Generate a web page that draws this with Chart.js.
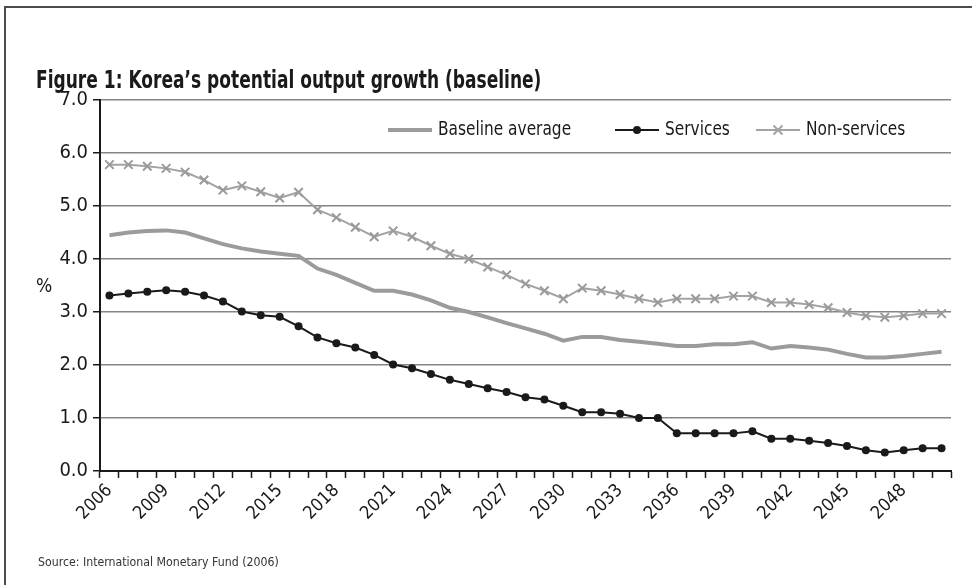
<!DOCTYPE html>
<html>
<head>
<meta charset="utf-8">
<script src="https://cdn.jsdelivr.net/npm/chart.js"></script>
<style>
  html, body { margin: 0; padding: 0; background: #fff; }
  .figure {
    position: relative;
    width: 972px;
    height: 585px;
    overflow: hidden;
    font-family: 'DejaVu Sans Condensed', 'Liberation Sans Narrow', sans-serif;
    color: #1a1a1a;
  }
  .frame {
    position: absolute;
    left: 4px; top: 6px;
    width: 980px; height: 600px;
    border-top: 2px solid #4d4d4d;
    border-left: 2px solid #4d4d4d;
  }
  .title {
    position: absolute;
    left: 36px; top: 66px;
    font-size: 24px;
    font-weight: bold;
    white-space: nowrap;
    transform: scaleX(0.79);
    transform-origin: left center;
  }
  .unit {
    position: absolute;
    left: 36px; top: 274px;
    font-size: 19px;
  }
  .source {
    position: absolute;
    left: 38px; top: 554px;
    font-size: 13px;
    color: #333;
    white-space: nowrap;
    transform: scaleX(0.94);
    transform-origin: left center;
  }
  canvas { position: absolute; left: 0; top: 0; }
</style>
</head>
<body>
<div class="figure">
  <div class="frame"></div>
  <canvas id="chart" width="972" height="585"></canvas>
  <div class="title">Figure 1: Korea’s potential output growth (baseline)</div>
  <div class="unit">%</div>
  <div class="source">Source: International Monetary Fund (2006)</div>
</div>

<script>
const years = [
  2006, 2007, 2008, 2009, 2010, 2011, 2012, 2013, 2014, 2015,
  2016, 2017, 2018, 2019, 2020, 2021, 2022, 2023, 2024, 2025,
  2026, 2027, 2028, 2029, 2030, 2031, 2032, 2033, 2034, 2035,
  2036, 2037, 2038, 2039, 2040, 2041, 2042, 2043, 2044, 2045,
  2046, 2047, 2048, 2049, 2050
];

const baselineAvg = [
  4.45, 4.50, 4.53, 4.54, 4.50, 4.39, 4.28, 4.20, 4.14, 4.10,
  4.06, 3.82, 3.70, 3.55, 3.40, 3.40, 3.33, 3.22, 3.08, 3.00,
  2.90, 2.79, 2.69, 2.59, 2.46, 2.53, 2.53, 2.47, 2.44, 2.40,
  2.36, 2.36, 2.39, 2.39, 2.43, 2.31, 2.36, 2.33, 2.29, 2.21,
  2.14, 2.14, 2.17, 2.21, 2.25
];

const services = [
  3.31, 3.35, 3.38, 3.41, 3.38, 3.31, 3.20, 3.01, 2.94, 2.91,
  2.73, 2.52, 2.41, 2.33, 2.19, 2.01, 1.94, 1.83, 1.72, 1.64,
  1.56, 1.49, 1.39, 1.35, 1.23, 1.11, 1.11, 1.08, 1.00, 1.00,
  0.71, 0.71, 0.71, 0.71, 0.75, 0.61, 0.61, 0.57, 0.53, 0.47,
  0.39, 0.35, 0.39, 0.43, 0.43
];

const nonServices = [
  5.78, 5.78, 5.75, 5.71, 5.64, 5.49, 5.30, 5.38, 5.27, 5.15,
  5.26, 4.93, 4.78, 4.60, 4.42, 4.53, 4.42, 4.25, 4.10, 4.00,
  3.85, 3.70, 3.53, 3.40, 3.25, 3.45, 3.40, 3.33, 3.25, 3.18,
  3.25, 3.25, 3.25, 3.30, 3.30, 3.18, 3.18, 3.14, 3.08, 2.99,
  2.93, 2.90, 2.93, 2.97, 2.97
];

const yTicks = [0, 1, 2, 3, 4, 5, 6, 7];
const labelEvery = 3;

const FONT = "'DejaVu Sans Condensed', 'Liberation Sans Narrow', sans-serif";

// legend drawn inside the plot, line sample + marker like the original
const insideLegend = {
  id: 'insideLegend',
  afterDraw(chart) {
    const ctx = chart.ctx;
    const y = 130;
    const spots = [388, 615, 756];
    ctx.save();
    ctx.font = '19px ' + FONT;
    ctx.textBaseline = 'middle';
    chart.data.datasets.forEach((ds, i) => {
      const x0 = spots[i];
      const x1 = x0 + 44;
      ctx.strokeStyle = ds.borderColor;
      ctx.lineWidth = ds.borderWidth;
      ctx.beginPath();
      ctx.moveTo(x0, y);
      ctx.lineTo(x1, y);
      ctx.stroke();
      const cx = (x0 + x1) / 2;
      if (ds.pointStyle === 'circle' && ds.pointRadius > 0) {
        ctx.fillStyle = ds.pointBackgroundColor;
        ctx.beginPath();
        ctx.arc(cx, y, ds.pointRadius, 0, Math.PI * 2);
        ctx.fill();
      } else if (ds.pointStyle === 'crossRot' && ds.pointRadius > 0) {
        const r = ds.pointRadius * 0.75;
        ctx.lineWidth = ds.pointBorderWidth;
        ctx.beginPath();
        ctx.moveTo(cx - r, y - r); ctx.lineTo(cx + r, y + r);
        ctx.moveTo(cx - r, y + r); ctx.lineTo(cx + r, y - r);
        ctx.stroke();
      }
      ctx.fillStyle = '#1a1a1a';
      const w = ctx.measureText(ds.label).width;
      ctx.fillText(ds.label, x1 + 6, y, w * 0.9);
    });
    ctx.restore();
  }
};

new Chart(document.getElementById('chart'), {
  type: 'line',
  data: {
    labels: years,
    datasets: [
      {
        label: 'Baseline average',
        data: baselineAvg,
        borderColor: '#9b9b9b',
        borderWidth: 4,
        pointRadius: 0,
        pointStyle: 'line',
        tension: 0
      },
      {
        label: 'Services',
        data: services,
        borderColor: '#1a1a1a',
        borderWidth: 2,
        pointStyle: 'circle',
        pointRadius: 4,
        pointBackgroundColor: '#1a1a1a',
        pointBorderColor: '#1a1a1a',
        pointBorderWidth: 0,
        tension: 0
      },
      {
        label: 'Non-services',
        data: nonServices,
        borderColor: '#a3a3a3',
        borderWidth: 2,
        pointStyle: 'crossRot',
        pointRadius: 6,
        pointBorderColor: '#9a9a9a',
        pointBorderWidth: 2,
        tension: 0
      }
    ]
  },
  options: {
    responsive: false,
    animation: false,
    layout: { padding: { left: 0, right: 21, top: 100, bottom: 0 } },
    plugins: {
      legend: { display: false },
      tooltip: { enabled: false }
    },
    scales: {
      x: {
        offset: true,
        grid: {
          offset: true,
          drawOnChartArea: false,
          drawTicks: true,
          tickLength: 7,
          tickColor: '#1a1a1a',
          tickWidth: 1.5
        },
        border: { color: '#1a1a1a', width: 2 },
        ticks: {
          autoSkip: false,
          minRotation: 45,
          maxRotation: 45,
          padding: 2,
          color: '#1a1a1a',
          font: { family: FONT, size: 18 },
          callback: function (val, idx) {
            return idx % labelEvery === 0 ? String(years[idx]) : '';
          }
        },
        afterFit: function (scale) { scale.height = 114; }
      },
      y: {
        min: yTicks[0],
        max: yTicks[yTicks.length - 1],
        afterBuildTicks: function (scale) {
          scale.ticks = yTicks.map(v => ({ value: v }));
        },
        grid: {
          color: '#858585',
          lineWidth: 1.5,
          tickLength: 7,
          tickColor: '#1a1a1a'
        },
        border: { color: '#1a1a1a', width: 2 },
        ticks: {
          padding: 5,
          color: '#1a1a1a',
          font: { family: FONT, size: 20 },
          callback: v => v.toFixed(1)
        },
        afterFit: function (scale) { scale.width = 100; }
      }
    }
  },
  plugins: [insideLegend]
});
</script>
</body>
</html>
